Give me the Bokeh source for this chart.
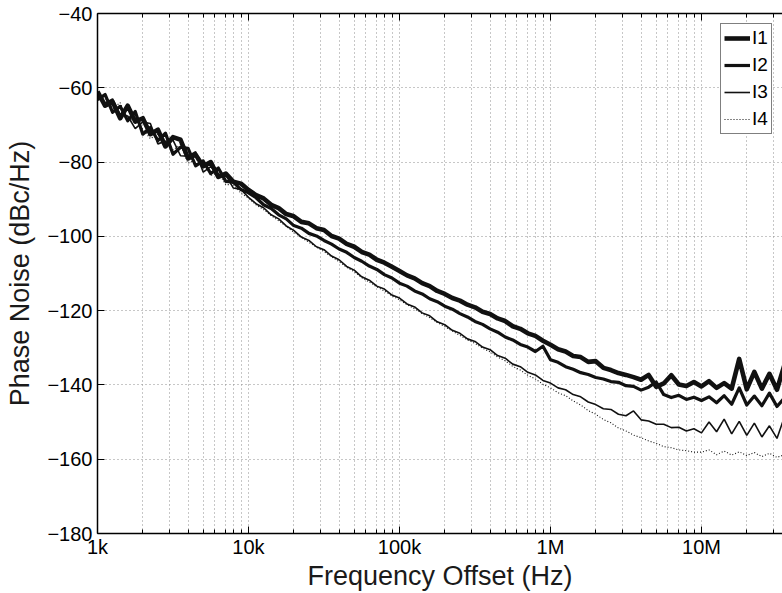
from bokeh.plotting import figure
from bokeh.models import Range1d, FixedTicker, LogAxis, Legend, LegendItem
from bokeh.embed import file_html
from bokeh.resources import INLINE

# ---------------- data ----------------
freq_hz = [
    1.000e3, 1.122e3, 1.259e3, 1.413e3, 1.585e3, 1.778e3, 1.995e3, 2.239e3, 2.512e3, 2.818e3,
    3.162e3, 3.548e3, 3.981e3, 4.467e3, 5.012e3, 5.623e3, 6.310e3, 7.079e3, 7.943e3, 8.913e3,
    1.000e4, 1.122e4, 1.259e4, 1.413e4, 1.585e4, 1.778e4, 1.995e4, 2.239e4, 2.512e4, 2.818e4,
    3.162e4, 3.548e4, 3.981e4, 4.467e4, 5.012e4, 5.623e4, 6.310e4, 7.079e4, 7.943e4, 8.913e4,
    1.000e5, 1.122e5, 1.259e5, 1.413e5, 1.585e5, 1.778e5, 1.995e5, 2.239e5, 2.512e5, 2.818e5,
    3.162e5, 3.548e5, 3.981e5, 4.467e5, 5.012e5, 5.623e5, 6.310e5, 7.079e5, 7.943e5, 8.913e5,
    1.000e6, 1.122e6, 1.259e6, 1.413e6, 1.585e6, 1.778e6, 1.995e6, 2.239e6, 2.512e6, 2.818e6,
    3.162e6, 3.548e6, 3.981e6, 4.467e6, 5.012e6, 5.623e6, 6.310e6, 7.079e6, 7.943e6, 8.913e6,
    1.000e7, 1.122e7, 1.259e7, 1.413e7, 1.585e7, 1.778e7, 1.995e7, 2.239e7, 2.512e7, 2.818e7,
    3.162e7, 3.548e7,
]

I1 = [
    -61.0, -64.8, -63.8, -68.2, -64.8, -69.1, -68.2, -72.5, -71.3, -75.8,
    -73.3, -74.0, -79.0, -78.0, -81.1, -80.0, -84.0, -83.1, -85.3, -85.8,
    -87.5, -88.9, -89.8, -91.5, -92.4, -94.0, -94.6, -96.1, -96.5, -97.8,
    -98.3, -99.9, -100.6, -102.0, -102.8, -104.2, -104.9, -106.3, -107.1, -108.2,
    -109.3, -110.5, -111.3, -112.6, -113.4, -114.7, -115.5, -116.6, -117.3, -118.4,
    -119.1, -120.3, -120.9, -122.1, -122.8, -124.2, -124.9, -126.1, -126.8, -128.1,
    -129.2, -130.4, -131.0, -132.2, -132.5, -133.8, -133.6, -135.4, -136.0, -136.8,
    -137.3, -137.9, -138.6, -137.3, -140.5, -139.6, -137.4, -139.9, -140.3, -139.2,
    -140.4, -139.0, -140.8, -139.5, -141.0, -133.0, -141.2, -136.5, -141.0, -137.0,
    -141.3, -134.5,
]

I2 = [
    -63.2, -61.8, -66.6, -65.0, -68.9, -66.4, -72.5, -70.7, -74.2, -72.2,
    -77.9, -76.0, -76.3, -81.0, -79.7, -83.1, -81.6, -85.2, -85.4, -87.4,
    -88.3, -89.6, -91.5, -92.5, -94.2, -95.3, -97.1, -97.8, -99.2, -99.9,
    -101.1, -102.1, -103.4, -104.3, -105.7, -106.7, -108.0, -108.9, -110.3, -111.2,
    -112.6, -113.4, -114.7, -115.5, -116.8, -117.6, -118.8, -119.6, -120.8, -121.7,
    -122.9, -123.7, -124.9, -125.8, -127.1, -127.9, -129.1, -129.8, -131.0, -129.6,
    -133.2, -133.9, -135.1, -135.8, -136.7, -137.2, -138.0, -138.4, -139.1, -139.3,
    -140.2, -140.4, -141.4, -140.6, -139.2, -142.6, -143.4, -142.8, -143.9, -143.3,
    -144.2, -143.2, -144.8, -142.9, -145.2, -140.8, -145.4, -143.0, -145.6, -142.2,
    -145.8, -143.5,
]

I3 = [
    -61.4, -64.1, -63.0, -67.2, -67.6, -71.0, -69.2, -69.6, -75.1, -74.4,
    -74.1, -78.3, -78.4, -77.2, -82.7, -81.2, -83.7, -83.5, -87.0, -87.4,
    -89.5, -91.2, -92.3, -94.2, -95.3, -97.2, -98.4, -100.2, -101.1, -102.8,
    -103.6, -105.3, -106.3, -108.1, -109.1, -110.9, -111.8, -113.4, -114.2, -115.8,
    -116.6, -118.2, -119.0, -120.6, -121.4, -123.0, -123.8, -125.3, -126.1, -127.6,
    -128.3, -129.8, -130.5, -132.1, -132.8, -134.4, -135.1, -136.6, -137.3, -138.8,
    -139.5, -140.8, -141.3, -142.6, -143.2, -144.6, -145.3, -146.4, -146.6, -147.9,
    -148.3, -147.0, -149.4, -149.7, -150.6, -150.6, -151.5, -151.4, -152.4, -151.8,
    -152.9, -150.0, -152.6, -149.2, -153.2, -149.8, -153.6, -150.3, -154.0, -151.0,
    -154.4, -148.5,
]

I4 = [
    -62.3, -62.8, -65.6, -64.0, -69.1, -68.0, -71.2, -73.7, -72.4, -73.1,
    -76.7, -75.3, -80.3, -79.4, -79.5, -83.6, -82.8, -86.1, -86.0, -88.4,
    -89.7, -91.5, -92.8, -94.4, -95.8, -97.3, -98.9, -100.3, -101.6, -102.9,
    -104.1, -105.5, -106.8, -108.3, -109.5, -111.1, -112.3, -113.6, -114.7, -116.0,
    -117.1, -118.4, -119.5, -120.8, -121.9, -123.2, -124.3, -125.5, -126.7, -127.9,
    -128.8, -130.1, -131.1, -132.5, -133.5, -135.0, -136.0, -137.4, -138.4, -139.8,
    -140.8, -142.1, -142.9, -144.3, -145.4, -146.9, -147.9, -149.3, -150.2, -151.6,
    -152.4, -153.5, -154.2, -155.1, -155.7, -156.6, -156.9, -157.5, -157.7, -158.1,
    -158.1, -157.5, -158.8, -157.8, -158.9, -158.0, -159.0, -158.2, -159.3, -158.4,
    -159.5, -158.8,
]

series_names = ["I1", "I2", "I3", "I4"]

x_ticks = [1e3, 1e4, 1e5, 1e6, 1e7]
x_tick_labels = ["1k", "10k", "100k", "1M", "10M"]
x_minor_ticks = [m * d for d in (1e3, 1e4, 1e5, 1e6, 1e7) for m in range(2, 10)]
y_ticks = [-180, -160, -140, -120, -100, -80, -60, -40]
y_tick_labels = ["\u2212180", "\u2212160", "\u2212140", "\u2212120", "\u2212100", "\u221280", "\u221260", "\u221240"]

FONT = "Liberation Sans"
INK = "#111111"
GRID = "#8f8f8f"

p = figure(
    width=782, height=593,
    x_axis_type="log",
    x_range=Range1d(1e3, 3.44e7), y_range=Range1d(-180, -40),
    output_backend="svg", toolbar_location=None,
    min_border_left=97, min_border_right=0, min_border_top=13, min_border_bottom=58,
    x_axis_label="Frequency Offset (Hz)", y_axis_label="Phase Noise (dBc/Hz)",
)
p.outline_line_color = None
p.background_fill_color = "white"
p.border_fill_color = "white"

xt = FixedTicker(ticks=x_ticks, minor_ticks=x_minor_ticks)
yt = FixedTicker(ticks=y_ticks, minor_ticks=[])
p.xaxis.ticker = xt
p.yaxis.ticker = yt
p.xgrid.ticker = xt
p.ygrid.ticker = yt
p.xaxis.major_label_overrides = {t: l for t, l in zip(x_ticks, x_tick_labels)}
p.yaxis.major_label_overrides = {t: l for t, l in zip(y_ticks, y_tick_labels)}

for ax in (p.xaxis, p.yaxis):
    ax.axis_line_color = "black"
    ax.axis_line_width = 1.5
    ax.major_tick_in = 7
    ax.major_tick_out = 0
    ax.minor_tick_in = 4
    ax.minor_tick_out = 0
    ax.major_tick_line_color = "black"
    ax.minor_tick_line_color = "black"
    ax.major_label_text_font = FONT
    ax.major_label_text_font_size = "20px"
    ax.major_label_text_color = "black"
    ax.axis_label_text_font = FONT
    ax.axis_label_text_font_size = "27px"
    ax.axis_label_text_font_style = "normal"
    ax.axis_label_text_color = "#1a1a1a"
p.xaxis.major_label_standoff = 2
p.xaxis.axis_label_standoff = 0
p.yaxis.major_label_standoff = 5
p.yaxis.axis_label_standoff = 9

top = LogAxis(ticker=xt, axis_line_color="black", axis_line_width=1.5,
              major_tick_in=7, major_tick_out=0, minor_tick_in=4, minor_tick_out=0,
              major_label_overrides={t: " " for t in x_ticks},
              major_label_text_font_size="2px", major_label_standoff=0)
p.add_layout(top, "above")

for g in (p.xgrid, p.ygrid):
    g.grid_line_color = GRID
    g.grid_line_dash = "1 3"
    g.grid_line_width = 1
p.xgrid.minor_grid_line_color = GRID
p.xgrid.minor_grid_line_dash = "1 3"
p.xgrid.minor_grid_line_width = 1

r4 = p.line(freq_hz, I4, line_color=INK, line_width=1.1, line_dash="1 2")
r3 = p.line(freq_hz, I3, line_color=INK, line_width=1.6)
r2 = p.line(freq_hz, I2, line_color=INK, line_width=3.2, line_join="round")
r1 = p.line(freq_hz, I1, line_color=INK, line_width=4.6, line_join="round")

legend = Legend(items=[LegendItem(label=n, renderers=[r]) for n, r in zip(series_names, [r1, r2, r3, r4])],
                location="top_right")
legend.margin = 10
legend.padding = 3
legend.spacing = 5
legend.glyph_width = 26
legend.glyph_height = 20
legend.label_height = 20
legend.label_width = 16
legend.label_standoff = 2
legend.label_text_font = FONT
legend.label_text_font_size = "19px"
legend.label_text_color = "black"
legend.border_line_color = "black"
legend.border_line_width = 1.5
legend.background_fill_color = "white"
legend.background_fill_alpha = 1.0
p.add_layout(legend, "center")

open("out.html", "w").write(file_html(p, INLINE))
